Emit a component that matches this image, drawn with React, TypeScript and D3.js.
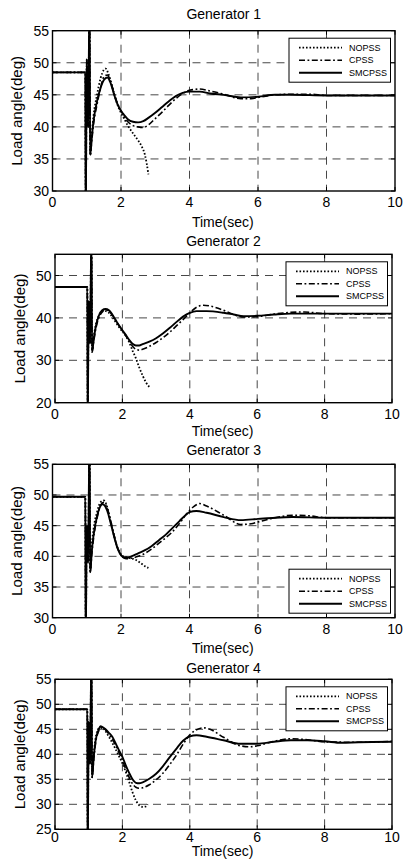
import * as d3 from "d3";

type Pt = [number, number];

// shared axis values
const timeTicks = [0, 2, 4, 6, 8, 10];
const seriesNames = ["NOPSS", "CPSS", "SMCPSS"];

// ---- Generator 1 ----
const gen1Ticks = [30, 35, 40, 45, 50, 55];
const gen1NOPSS: Pt[] = [
  [0, 48.5], [0.96, 48.5], [0.97, 25], [1.0, 50.5], [1.04, 40], [1.08, 60], [1.1, 35.6],
  [1.15, 39], [1.2, 41.8], [1.3, 45], [1.4, 47.5], [1.5, 48.9], [1.55, 49.1], [1.65, 48],
  [1.8, 45.2], [1.9, 43.4], [2.0, 42.2], [2.1, 41.2], [2.2, 40.2], [2.35, 39.0], [2.5, 37.9],
  [2.6, 37.0], [2.7, 35.6], [2.75, 34.3], [2.8, 32.6],
];
const gen1CPSS: Pt[] = [
  [0, 48.5], [0.96, 48.5], [0.97, 25], [1.0, 50.5], [1.04, 40], [1.08, 60], [1.1, 35.6],
  [1.15, 38], [1.2, 40.5], [1.3, 43.5], [1.4, 46], [1.5, 47.8], [1.6, 48.1], [1.7, 47],
  [1.8, 45.2], [1.9, 43.6], [2.0, 42.5], [2.1, 41.5], [2.2, 40.8], [2.35, 40.2], [2.5, 40.0],
  [2.65, 39.9], [2.8, 40.3], [3.0, 41.3], [3.2, 42.3], [3.4, 43.4], [3.6, 44.4], [3.8, 45.2],
  [4.0, 45.7], [4.3, 45.9], [4.6, 45.6], [5.0, 45.1], [5.5, 44.4], [5.8, 44.4], [6.0, 44.6],
  [6.5, 45.0], [7, 45.1], [7.5, 45.1], [8, 44.9], [9, 44.9], [10, 44.9],
];
const gen1SMCPSS: Pt[] = [
  [0, 48.5], [0.96, 48.5], [0.97, 25], [1.0, 50.5], [1.04, 40], [1.08, 60], [1.1, 35.6],
  [1.15, 38.5], [1.2, 41], [1.3, 44], [1.4, 46], [1.5, 47.3], [1.6, 47.7], [1.7, 46.8],
  [1.8, 45], [1.9, 43.5], [2.0, 42.5], [2.1, 41.8], [2.2, 41.2], [2.35, 40.8], [2.5, 40.7],
  [2.65, 40.9], [2.8, 41.4], [3.0, 42.2], [3.2, 43.1], [3.4, 44], [3.6, 44.8], [3.8, 45.3],
  [4.0, 45.5], [4.3, 45.5], [4.6, 45.2], [5.0, 45.0], [5.5, 44.6], [6.0, 44.7], [6.5, 45.0],
  [7, 45.0], [8, 44.9], [9, 44.9], [10, 44.9],
];

// ---- Generator 2 ----
const gen2Ticks = [20, 30, 40, 50];
const gen2NOPSS: Pt[] = [
  [0, 47.3], [0.96, 47.3], [0.97, 15], [1.0, 44], [1.04, 34], [1.08, 60], [1.1, 32],
  [1.15, 35.5], [1.2, 38], [1.3, 40.5], [1.4, 41.5], [1.5, 41.6], [1.6, 41.2], [1.7, 40.2],
  [1.8, 39], [1.9, 37.8], [2.0, 36.8], [2.1, 35.8], [2.2, 34.3], [2.3, 32.3], [2.4, 30.5],
  [2.5, 28.3], [2.6, 26.4], [2.7, 24.8], [2.8, 23.7],
];
const gen2CPSS: Pt[] = [
  [0, 47.3], [0.96, 47.3], [0.97, 15], [1.0, 44], [1.04, 34], [1.08, 60], [1.1, 32],
  [1.15, 34.5], [1.2, 37], [1.3, 40], [1.4, 41.4], [1.5, 41.9], [1.6, 41.6], [1.7, 40.7],
  [1.8, 39.4], [1.9, 38.2], [2.0, 37.0], [2.1, 35.8], [2.2, 34.5], [2.3, 33.3], [2.4, 32.6],
  [2.5, 32.4], [2.6, 32.6], [2.8, 33.3], [3.0, 34.2], [3.2, 35.3], [3.4, 36.6], [3.6, 38.1],
  [3.8, 39.6], [4.0, 41.2], [4.2, 42.5], [4.4, 43.0], [4.6, 42.8], [5.0, 41.8], [5.3, 40.8],
  [5.6, 40.2], [6.0, 40.3], [6.5, 40.9], [7, 41.3], [7.4, 41.4], [8, 41.0], [9, 40.9], [10, 41],
];
const gen2SMCPSS: Pt[] = [
  [0, 47.3], [0.96, 47.3], [0.97, 15], [1.0, 44], [1.04, 34], [1.08, 60], [1.1, 32],
  [1.15, 35], [1.2, 37.5], [1.3, 40.5], [1.4, 41.8], [1.5, 42.1], [1.6, 41.8], [1.7, 40.8],
  [1.8, 39.5], [1.9, 38.2], [2.0, 37.1], [2.1, 36.0], [2.2, 34.8], [2.3, 33.9], [2.4, 33.5],
  [2.5, 33.5], [2.6, 33.8], [2.8, 34.4], [3.0, 35.2], [3.2, 36.3], [3.4, 37.6], [3.6, 39.0],
  [3.8, 40.3], [4.0, 41.2], [4.2, 41.6], [4.5, 41.6], [5.0, 41.2], [5.3, 40.8], [5.6, 40.4],
  [6.0, 40.5], [6.5, 40.8], [7, 41.0], [8, 41], [9, 41], [10, 41],
];

// ---- Generator 3 ----
const gen3Ticks = [30, 35, 40, 45, 50, 55];
const gen3NOPSS: Pt[] = [
  [0, 49.7], [0.96, 49.7], [0.97, 25], [1.0, 45], [1.04, 39], [1.08, 60], [1.1, 37.4],
  [1.15, 42], [1.2, 44.5], [1.3, 47.2], [1.4, 48.8], [1.5, 49.1], [1.6, 48.0], [1.7, 45.6],
  [1.8, 43.3], [1.9, 41.4], [2.0, 40.3], [2.1, 39.9], [2.2, 39.8], [2.4, 39.5], [2.5, 39.2],
  [2.6, 38.8], [2.7, 38.4], [2.8, 38.1],
];
const gen3CPSS: Pt[] = [
  [0, 49.7], [0.96, 49.7], [0.97, 25], [1.0, 45], [1.04, 39], [1.08, 60], [1.1, 37.4],
  [1.15, 40.5], [1.2, 43], [1.3, 46.2], [1.4, 48.3], [1.5, 48.8], [1.6, 47.8], [1.7, 45.8],
  [1.8, 43.4], [1.9, 41.4], [2.0, 40.2], [2.1, 39.7], [2.2, 39.6], [2.3, 39.7], [2.5, 40.0],
  [2.7, 40.5], [2.9, 41.2], [3.1, 42.1], [3.3, 43.0], [3.5, 44.0], [3.7, 45.3], [3.9, 46.8],
  [4.1, 48.0], [4.3, 48.6], [4.5, 48.2], [5.0, 46.7], [5.5, 45.2], [5.8, 45.3], [6.0, 45.6],
  [6.5, 46.3], [7, 46.7], [7.5, 46.6], [8, 46.3], [9, 46.3], [10, 46.3],
];
const gen3SMCPSS: Pt[] = [
  [0, 49.7], [0.96, 49.7], [0.97, 25], [1.0, 45], [1.04, 39], [1.08, 60], [1.1, 37.4],
  [1.15, 41], [1.2, 43.5], [1.3, 46.5], [1.4, 48.2], [1.45, 48.5], [1.5, 48.4], [1.6, 47.4],
  [1.7, 45.4], [1.8, 43.2], [1.9, 41.3], [2.0, 40.2], [2.1, 39.8], [2.2, 39.8], [2.3, 40.0],
  [2.5, 40.5], [2.7, 41.0], [2.9, 41.7], [3.1, 42.6], [3.3, 43.5], [3.5, 44.6], [3.7, 45.7],
  [3.9, 46.8], [4.0, 47.2], [4.2, 47.4], [4.5, 47.1], [5.0, 46.4], [5.5, 45.9], [6.0, 46.1],
  [6.5, 46.3], [7, 46.4], [8, 46.3], [9, 46.3], [10, 46.3],
];

// ---- Generator 4 ----
const gen4Ticks = [25, 30, 35, 40, 45, 50, 55];
const gen4NOPSS: Pt[] = [
  [0, 49.0], [0.96, 49.0], [0.97, 20], [1.0, 46.5], [1.04, 38], [1.08, 60], [1.1, 35.4],
  [1.15, 40], [1.2, 43], [1.3, 45.2], [1.4, 45.4], [1.5, 44.6], [1.6, 43.5], [1.7, 42.3],
  [1.8, 41], [1.9, 39.6], [2.0, 38.2], [2.1, 36.5], [2.2, 34.5], [2.3, 32.4], [2.4, 30.8],
  [2.5, 29.8], [2.6, 29.5], [2.7, 29.6], [2.75, 30.0],
];
const gen4CPSS: Pt[] = [
  [0, 49.0], [0.96, 49.0], [0.97, 20], [1.0, 46.5], [1.04, 38], [1.08, 60], [1.1, 35.4],
  [1.15, 39], [1.2, 42], [1.3, 44.7], [1.4, 45.3], [1.5, 44.9], [1.6, 44.0], [1.7, 43],
  [1.8, 41.8], [1.9, 40.3], [2.0, 38.8], [2.1, 37.0], [2.2, 35.4], [2.3, 34.1], [2.4, 33.4],
  [2.5, 33.2], [2.6, 33.3], [2.8, 33.9], [3.0, 34.9], [3.2, 36.2], [3.4, 37.9], [3.6, 39.8],
  [3.8, 42.0], [4.0, 43.9], [4.2, 44.9], [4.4, 45.3], [4.6, 45.0], [5.0, 43.4], [5.5, 41.7],
  [5.8, 41.5], [6.0, 41.7], [6.5, 42.6], [7, 43.1], [7.5, 42.9], [8, 42.5], [9, 42.4], [10, 42.6],
];
const gen4SMCPSS: Pt[] = [
  [0, 49.0], [0.96, 49.0], [0.97, 20], [1.0, 46.5], [1.04, 38], [1.08, 60], [1.1, 35.4],
  [1.15, 39.5], [1.2, 42.5], [1.3, 45], [1.35, 45.6], [1.4, 45.5], [1.5, 45], [1.6, 44.3],
  [1.7, 43.5], [1.8, 42.2], [1.9, 40.8], [2.0, 39.5], [2.1, 37.8], [2.2, 36.3], [2.3, 35.0],
  [2.4, 34.3], [2.5, 34.2], [2.6, 34.4], [2.8, 35.1], [3.0, 36.1], [3.2, 37.6], [3.4, 39.4],
  [3.6, 41.1], [3.8, 42.7], [4.0, 43.6], [4.2, 43.8], [4.5, 43.5], [5.0, 42.8], [5.5, 42.1],
  [6.0, 42.1], [6.5, 42.5], [7, 42.8], [7.5, 42.8], [8, 42.6], [8.5, 42.3], [9, 42.4], [10, 42.5],
];

const FONT = "'Liberation Sans', Arial, Helvetica, sans-serif";

// line look per series, same order as seriesNames
const STYLES = [
  { dash: "1.6 1.9", width: 1.8 },
  { dash: "6 2.5 1.8 2.5", width: 1.6 },
  { dash: null, width: 1.9 },
];

const PANELS = [
  {
    title: "Generator 1", yDomain: [30, 55], yTicks: gen1Ticks, series: [gen1NOPSS, gen1CPSS, gen1SMCPSS],
    left: 52.5, right: 395, top: 30.7, bottom: 191,
    titleY: 14, tickY: 202, labelY: 222, legend: "top",
  },
  {
    title: "Generator 2", yDomain: [20, 55], yTicks: gen2Ticks, series: [gen2NOPSS, gen2CPSS, gen2SMCPSS],
    left: 55, right: 392, top: 254.3, bottom: 402.7,
    titleY: 240.5, tickY: 413.5, labelY: 431, legend: "top",
  },
  {
    title: "Generator 3", yDomain: [30, 55], yTicks: gen3Ticks, series: [gen3NOPSS, gen3CPSS, gen3SMCPSS],
    left: 52.5, right: 395, top: 464.3, bottom: 617.7,
    titleY: 450, tickY: 628.5, labelY: 647.5, legend: "bottom",
  },
  {
    title: "Generator 4", yDomain: [25, 55], yTicks: gen4Ticks, series: [gen4NOPSS, gen4CPSS, gen4SMCPSS],
    left: 55, right: 392, top: 679.3, bottom: 829.3,
    titleY: 667.5, tickY: 837, labelY: 850.5, legend: "top",
  },
];

function Panel({ cfg, idx }: { cfg: (typeof PANELS)[number]; idx: number }) {
  const x = d3.scaleLinear().domain([0, 10]).range([cfg.left, cfg.right]);
  const y = d3.scaleLinear().domain(cfg.yDomain).range([cfg.bottom, cfg.top]);
  const line = d3
    .line<Pt>()
    .x((d) => x(d[0]))
    .y((d) => y(d[1]))
    .curve(d3.curveMonotoneX);

  const clipId = `clip-${idx}`;
  const cx = (cfg.left + cfg.right) / 2;
  const cy = (cfg.top + cfg.bottom) / 2;

  // legend box
  const lw = 101.5;
  const lh = 44;
  const lx = cfg.right - 4.5 - lw;
  const ly = cfg.legend === "top" ? cfg.top + 7.5 : cfg.bottom - 4.5 - lh;
  const rows = [9.5, 22, 34.5];

  return (
    <g>
      <defs>
        <clipPath id={clipId}>
          <rect x={cfg.left} y={cfg.top} width={cfg.right - cfg.left} height={cfg.bottom - cfg.top} />
        </clipPath>
      </defs>

      {/* grid */}
      <g stroke="#333" strokeWidth={0.9} strokeDasharray="8 6">
        {timeTicks.filter((t) => t > 0 && t < 10).map((t) => (
          <line key={"gx" + t} x1={x(t)} x2={x(t)} y1={cfg.top} y2={cfg.bottom} />
        ))}
        {cfg.yTicks.filter((v) => v > cfg.yDomain[0] && v < cfg.yDomain[1]).map((v) => (
          <line key={"gy" + v} x1={cfg.left} x2={cfg.right} y1={y(v)} y2={y(v)} />
        ))}
      </g>

      {/* curves */}
      <g clipPath={`url(#${clipId})`} fill="none" stroke="#000">
        {cfg.series.map((s, i) => (
          <path
            key={i}
            d={line(s) ?? ""}
            strokeWidth={STYLES[i].width}
            strokeDasharray={STYLES[i].dash ?? undefined}
            strokeLinejoin="round"
          />
        ))}
      </g>

      {/* axes box and ticks */}
      <rect
        x={cfg.left}
        y={cfg.top}
        width={cfg.right - cfg.left}
        height={cfg.bottom - cfg.top}
        fill="none"
        stroke="#000"
        strokeWidth={1.4}
      />
      <g stroke="#000" strokeWidth={1}>
        {timeTicks.map((t) => (
          <g key={"tx" + t}>
            <line x1={x(t)} x2={x(t)} y1={cfg.bottom} y2={cfg.bottom - 4} />
            <line x1={x(t)} x2={x(t)} y1={cfg.top} y2={cfg.top + 4} />
          </g>
        ))}
        {cfg.yTicks.map((v) => (
          <g key={"ty" + v}>
            <line x1={cfg.left} x2={cfg.left + 4} y1={y(v)} y2={y(v)} />
            <line x1={cfg.right} x2={cfg.right - 4} y1={y(v)} y2={y(v)} />
          </g>
        ))}
      </g>

      {/* tick labels */}
      <g fontFamily={FONT} fontSize={14} fill="#000">
        {timeTicks.map((t) => (
          <text key={"lx" + t} x={x(t)} y={cfg.tickY} textAnchor="middle" dominantBaseline="central">
            {t}
          </text>
        ))}
        {cfg.yTicks.map((v) => (
          <text key={"ly" + v} x={cfg.left - 3.5} y={y(v)} textAnchor="end" dominantBaseline="central">
            {v}
          </text>
        ))}
        <text x={cx} y={cfg.titleY} textAnchor="middle" dominantBaseline="central">
          {cfg.title}
        </text>
        <text x={cx - 1} y={cfg.labelY} textAnchor="middle" dominantBaseline="central">
          Time(sec)
        </text>
        <text
          transform={`translate(${cfg.left - 30.5},${cy}) rotate(-90)`}
          textAnchor="middle"
          textLength={110}
          lengthAdjust="spacingAndGlyphs"
        >
          Load angle(deg)
        </text>
      </g>

      {/* legend */}
      <g>
        <rect x={lx} y={ly} width={lw} height={lh} fill="#fff" stroke="#000" strokeWidth={1} />
        {seriesNames.map((name, i) => (
          <g key={name}>
            <line
              x1={lx + 10}
              x2={lx + 53}
              y1={ly + rows[i]}
              y2={ly + rows[i]}
              stroke="#000"
              strokeWidth={STYLES[i].width}
              strokeDasharray={STYLES[i].dash ?? undefined}
            />
            <text
              x={lx + 60}
              y={ly + rows[i]}
              dominantBaseline="central"
              fontFamily={FONT}
              fontSize={9}
              fill="#000"
            >
              {name}
            </text>
          </g>
        ))}
      </g>
    </g>
  );
}

export default function App() {
  return (
    <svg
      width={403}
      height={865}
      viewBox="0 0 403 865"
      style={{ position: "absolute", left: 0, top: 0, background: "#fff" }}
    >
      <rect width={403} height={865} fill="#fff" />
      {PANELS.map((p, i) => (
        <Panel key={p.title} cfg={p} idx={i} />
      ))}
    </svg>
  );
}
